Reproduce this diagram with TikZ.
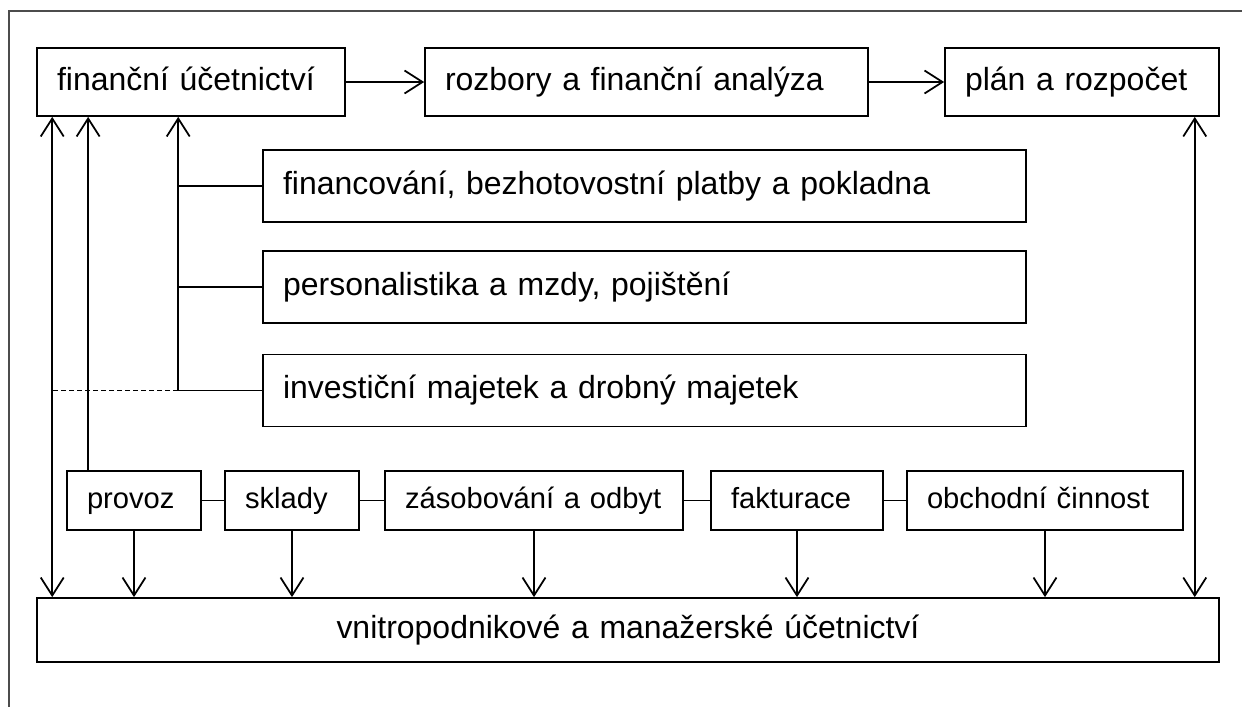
\documentclass[tikz,border=0pt]{standalone}
\usepackage{fontspec}
\setmainfont{Liberation Sans}
\usetikzlibrary{arrows.meta}
\usetikzlibrary{calc}

\begin{document}
\begin{tikzpicture}[x=0.02cm,y=-0.02cm,
  line width=1pt,
  >={Straight Barb[length=0.36cm,width=0.46cm]},
  box/.style={draw, font=\fontsize{18.2}{22}\selectfont, text height=0.48cm, text depth=0.16cm,
    inner xsep=0.4cm, inner ysep=0pt, text width=#1, align=left},
  top/.style={box=#1, minimum height=1.36cm},
  mid/.style={box=14.46cm, minimum height=1.44cm},
  low/.style={box=#1, minimum height=1.18cm, font=\fontsize{16.6}{20}\selectfont},
  frame/.style={draw=black!70}]
\useasboundingbox (0,0) rectangle (1242,707);
\draw[frame] (9,707) -- (9,11) -- (1242,11);
% top row
\node (fu) at (191,82) [top=5.36cm] {finanční účetnictví};
\node (rozb) at (646.5,82) [top=8.06cm] {rozbory a finanční analýza};
\node (plan) at (1082,82) [top=4.68cm] {plán a rozpočet};
\draw[->] (fu) -- (rozb);
\draw[->] (rozb) -- (plan);
% middle boxes
\node (fin) at (644.5,186) [mid] {financování, bezhotovostní platby a pokladna};
\node (pers) at (644.5,287) [mid] {personalistika a mzdy, pojištění};
\node (inv) at (644.5,390.5) [mid] {investiční majetek a drobný majetek};
% lower row
\node (provoz) at (134,500.5) [low=1.88cm] {provoz};
\node (sklady) at (292,500.5) [low=1.88cm] {sklady};
\node (zas) at (534,500.5) [low=5.16cm] {zásobování a odbyt};
\node (fakt) at (797,500.5) [low=2.64cm] {fakturace};
\node (obch) at (1045,500.5) [low=4.72cm] {obchodní činnost};
\node (acc) at (628,630) [box=22.84cm, minimum height=1.28cm, align=center] {vnitropodnikové a manažerské účetnictví};
% connectors
\coordinate (tr) at ([xshift=-1.68cm]inv.west);
\coordinate (ll) at ([xshift=0.32cm]acc.north west);
\coordinate (rr) at ([xshift=-0.5cm]acc.north east);
\coordinate (pu) at ([xshift=0.44cm]provoz.north west);
\foreach \z in {fin,pers,inv} {
\draw (\z.west) -- (\z.west -| tr);
}
\draw[->] (tr) -- (tr |- fu.south);
\draw[dash pattern=on 0.1cm off 0.06cm] (tr) -- (tr -| ll);
\draw[<->] (ll |- fu.south) -- (ll);
\draw[<->] (rr |- plan.south) -- (rr);
\draw[->] (pu) -- (pu |- fu.south);
\draw (provoz) -- (sklady);
\draw (sklady) -- (zas);
\draw (zas) -- (fakt);
\draw (fakt) -- (obch);
\foreach \z in {provoz,sklady,zas,fakt,obch} {
\draw[->] (\z) -- (\z |- acc.north);
}
\end{tikzpicture}
\end{document}
